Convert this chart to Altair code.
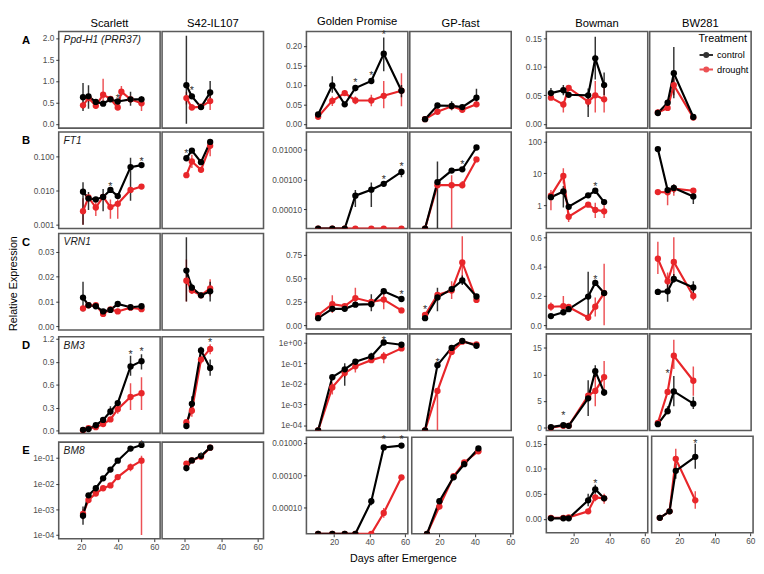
import altair as alt
import pandas as pd

CULTIVARS = ["Scarlett", "S42-IL107", "Golden Promise", "GP-fast", "Bowman", "BW281"]
GENES = ["Ppd-H1 (PRR37)", "FT1", "VRN1", "BM3", "BM8"]
ROW_LETTERS = ["A", "B", "C", "D", "E"]
TREATMENTS = ["control", "drought"]
COLORS = ["#000000", "#E8262A"]
X_TICKS = [20, 40, 60]

# each point: [day, mean, lower, upper]
# ---- Row A: Ppd-H1 (PRR37)
ppd_sc_c = [[21, .62, .30, .95], [24, .64, .35, .90], [28, .51, .46, .56], [32, .47, .42, .52], [36, .57, .52, .62], [40, .52, .47, .57], [47, .57, .42, .75], [53, .57, .50, .64]]
ppd_sc_d = [[21, .43, .35, .52], [24, .60, .50, .70], [28, .42, .35, .50], [32, .68, .45, 1.05], [36, .58, .53, .65], [40, .38, .33, .43], [42, .75, .65, .88], [47, .57, .50, .64], [53, .48, .30, .62]]
ppd_s42_c = [[21, .90, 0, 2.05], [24, .64, .58, .70], [29, .39, .35, .43], [34, .73, .50, 1.00]]
ppd_s42_d = [[21, .60, .45, .75], [24, .38, .32, .46], [29, .40, .36, .45], [34, .53, .32, .68]]
ppd_gp_c = [[11, .024, .020, .028], [19, .099, .080, .122], [26, .050, .045, .056], [32, .092, .084, .100], [41, .110, .104, .116], [48, .180, .135, .222], [58, .085, .068, .100]]
ppd_gp_d = [[11, .018, .015, .021], [19, .059, .046, .070], [26, .079, .072, .086], [32, .060, .050, .070], [41, .060, .045, .075], [48, .072, .040, .110], [58, .085, .045, .130]]
ppd_gpf_c = [[13, .012, .010, .014], [20, .047, .042, .052], [28, .046, .035, .058], [34, .043, .038, .048], [42, .067, .055, .090]]
ppd_gpf_d = [[13, .012, .010, .014], [20, .031, .027, .035], [28, .045, .041, .049], [34, .036, .030, .042], [42, .050, .045, .055]]
ppd_bow_c = [[7, .054, .047, .063], [14, .059, .050, .068], [17, .051, .048, .054], [28, .050, .012, .062], [32, .115, .078, .153], [37, .068, .050, .090]]
ppd_bow_d = [[7, .046, .042, .050], [14, .034, .020, .040], [17, .063, .058, .068], [28, .039, .030, .050], [32, .050, .020, .075], [37, .043, .020, .065]]
ppd_bw_c = [[9, .019, .016, .022], [14.5, .037, .033, .041], [18, .089, .045, .135], [29, .012, .010, .014]]
ppd_bw_d = [[9, .020, .016, .025], [14.5, .028, .024, .032], [18, .068, .050, .080], [29, .011, .009, .013]]
ppd_stars = [["Scarlett", 40, .64], ["S42-IL107", 24, .83], ["Golden Promise", 32, .111], ["Golden Promise", 41, .13], ["Golden Promise", 48, .235]]

# ---- Row B: FT1 (log)
ft1_sc_c = [[21, .0092, .0010, .0175], [24, .0059, .0027, .0090], [28, .0055, .0048, .0063], [32, .0065, .0025, .0110], [36, .0104, .0090, .0120], [40, .0069, .0060, .0080], [47, .048, .0050, .090], [53, .055, .045, .065]]
ft1_sc_d = [[21, .0025, .0010, .0060], [24, .0063, .0050, .0075], [28, .0032, .0018, .0055], [32, .0065, .0055, .0075], [36, .0033, .0015, .0055], [40, .0041, .0015, .0055], [47, .0104, .0090, .0120], [53, .013, .012, .014]]
ft1_s42_c = [[21, .087, .080, .095], [24, .145, .130, .160], [29, .067, .060, .075], [34, .26, .22, .30]]
ft1_s42_d = [[21, .028, .025, .031], [24, .070, .045, .110], [29, .040, .035, .045], [34, .20, .10, .28]]
ft1_gp_c = [[11, 0, 0, 0], [19, 0, 0, 0], [26, 0, 0, 0], [32, .00029, .00012, .00045], [41, .00046, .00012, .0008], [48, .00072, .00065, .0008], [58, .0018, .0012, .0023]]
ft1_gp_d = [[11, 0, 0, 0], [19, 0, 0, 0], [26, 0, 0, 0], [32, 0, 0, 0], [41, 0, 0, 0], [48, 0, 0, 0], [58, 0, 0, 0]]
ft1_gpf_c = [[13, 0, 0, 0], [20, .00082, .00002, .004], [28, .0020, .0018, .0022], [34, .0022, .0020, .0025], [42, .0118, .011, .013]]
ft1_gpf_d = [[13, 0, 0, 0], [20, .00065, .0006, .0007], [28, .00065, 0, .0014], [34, .00065, .0005, .0009], [42, .0047, .0043, .0051]]
ft1_bow_c = [[7, 1.8, 1.5, 2.1], [14, 2.7, .85, 4.0], [17, .90, .80, 1.0], [28, 2.05, 1.9, 2.2], [32, 2.85, 2.6, 3.1], [37, 1.26, 1.1, 1.4]]
ft1_bow_d = [[7, 2.0, .70, 3.0], [14, 8.3, 4.8, 14.5], [17, .44, .30, .60], [28, 1.05, .95, 1.15], [32, .72, .40, 1.2], [37, .65, .40, 1.0]]
ft1_bw_c = [[9, 57, 52, 62], [14.5, 3.0, 2.7, 3.3], [18, 3.5, 2.5, 4.5], [29, 1.9, 1.1, 2.6]]
ft1_bw_d = [[9, 2.6, 2.4, 2.8], [14.5, 2.55, 1.0, 3.5], [18, 3.3, 2.0, 4.5], [29, 2.85, 2.6, 3.1]]
ft1_stars = [["Scarlett", 36, .015], ["Scarlett", 53, .083], ["S42-IL107", 21, .14], ["Golden Promise", 48, .00117], ["Golden Promise", 58, .0032], ["GP-fast", 34, .0039], ["Bowman", 32, 4.6]]

# ---- Row C: VRN1
vrn1_sc_c = [[21, .0116, .006, .018], [24, .0085, .0078, .0092], [28, .0081, .0075, .0087], [32, .0060, .0053, .0067], [36, .0066, .0058, .0074], [40, .0090, .0083, .0097], [47, .0077, .0072, .0082], [53, .0081, .0076, .0086]]
vrn1_sc_d = [[21, .0072, .0062, .0082], [24, .0085, .0078, .0092], [28, .0085, .0079, .0091], [32, .0050, .0042, .0058], [36, .0068, .0060, .0076], [40, .0060, .0052, .0068], [47, .0075, .0069, .0081], [53, .0069, .0063, .0075]]
vrn1_s42_c = [[21, .0225, .010, .036], [24, .0156, .0140, .0172], [29, .0125, .0118, .0132], [34, .0141, .010, .018]]
vrn1_s42_d = [[21, .0184, .010, .027], [24, .0144, .0130, .0158], [29, .0125, .0118, .0132], [34, .0153, .012, .019]]
vrn1_gp_c = [[11, .076, .065, .087], [19, .175, .160, .190], [26, .175, .160, .190], [32, .22, .20, .24], [41, .225, .15, .33], [48, .363, .34, .385], [58, .28, .26, .30]]
vrn1_gp_d = [[11, .109, .095, .123], [19, .225, .13, .32], [26, .205, .18, .23], [32, .29, .22, .40], [41, .248, .23, .27], [48, .274, .17, .34], [58, .158, .145, .17]]
vrn1_gpf_c = [[13, .076, .065, .087], [20, .297, .15, .40], [28, .386, .36, .41], [34, .478, .43, .53], [42, .307, .28, .33]]
vrn1_gpf_d = [[13, .11, .095, .125], [20, .324, .30, .35], [28, .37, .28, .47], [34, .67, .50, .95], [42, .27, .25, .29]]
vrn1_bow_c = [[7, .063, .055, .071], [14, .089, .080, .098], [17, .11, .10, .12], [28, .196, .03, .365], [32, .289, .27, .31], [37, .22, .20, .24]]
vrn1_bow_d = [[7, .127, .10, .155], [14, .13, .09, .20], [17, .125, .11, .14], [28, .053, .04, .066], [32, .127, .06, .19], [37, .22, 0, .42]]
vrn1_bw_c = [[9, .228, .21, .25], [14.5, .232, .16, .30], [18, .316, .29, .35], [29, .258, .22, .30]]
vrn1_bw_d = [[9, .454, .35, .57], [14.5, .30, .25, .36], [18, .432, .30, .60], [29, .20, .17, .23]]
vrn1_stars = [["Golden Promise", 58, .356], ["GP-fast", 13, .19], ["Bowman", 32, .33]]

# ---- Row D: BM3
bm3_sc_c = [[21, .01, .005, .015], [24, .02, .01, .03], [28, .07, .05, .09], [32, .14, .12, .16], [36, .25, .20, .32], [40, .36, .33, .39], [47, .84, .72, .98], [53, .91, .80, 1.0]]
bm3_sc_d = [[21, .005, 0, .01], [24, .03, .02, .04], [28, .045, .03, .06], [32, .085, .06, .11], [36, .146, .12, .17], [40, .28, .22, .34], [47, .44, .27, .62], [53, .49, .27, .70]]
bm3_s42_c = [[21, .06, .05, .07], [24, .35, .25, .45], [29, 1.05, 1.0, 1.1], [34, .82, .72, .93]]
bm3_s42_d = [[21, .11, .09, .13], [24, .26, .18, .33], [29, .93, .88, .98], [34, 1.07, 1.0, 1.13]]
bm3_gp_c = [[11, 0, 0, 0], [19, .021, .017, .025], [26, .05, .008, .10], [32, .117, .10, .135], [41, .21, .13, .32], [48, 1.0, .9, 1.1], [58, .78, .7, .86]]
bm3_gp_d = [[11, 0, 0, 0], [19, .0067, .003, .012], [26, .033, .020, .05], [32, .07, .035, .10], [41, .14, .12, .16], [48, .21, .10, .35], [58, .52, .45, .6]]
bm3_gpf_c = [[13, 0, 0, 0], [20, .08, .07, .09], [28, .55, .5, .6], [34, 1.2, 1.1, 1.3], [42, .7, .6, .8]]
bm3_gpf_d = [[13, 0, 0, 0], [20, .0045, 0, .006], [28, .35, .3, .4], [34, 1.1, 1.0, 1.2], [42, .8, .7, .9]]
bm3_bow_c = [[7, .1, 0, .2], [14, .47, .3, .6], [17, .35, .2, .5], [28, 5.5, 2.2, 8.9], [32, 10.6, 9.5, 11.7], [37, 6.6, 6.0, 7.2]]
bm3_bow_d = [[7, 0, 0, 0], [14, .35, .2, .5], [17, .35, .2, .5], [28, 6.0, 5.5, 6.5], [32, 6.9, 4.0, 10.0], [37, 9.5, 6.5, 12.5]]
bm3_bw_c = [[9, .65, .4, .9], [14.5, 3.1, 2.5, 4.0], [18, 6.8, 4.0, 9.7], [29, 4.5, 3.5, 5.8]]
bm3_bw_d = [[9, .87, .6, 1.1], [14.5, 6.7, 6.3, 7.1], [18, 13.5, 11.0, 16.5], [29, 8.8, 6.0, 11.5]]
bm3_stars = [["Scarlett", 47, 1.03], ["Scarlett", 53, 1.07], ["S42-IL107", 34, 1.18], ["Golden Promise", 48, 1.7], ["GP-fast", 20, .14], ["Bowman", 14, 2.7], ["BW281", 14.5, 10.6]]

# ---- Row E: BM8
bm8_sc_c = [[21, .00056, .00025, .0013], [24, .0035, .003, .004], [28, .0066, .0058, .0074], [32, .016, .014, .018], [36, .035, .031, .039], [40, .078, .07, .086], [47, .23, .2, .26], [53, .32, .29, .35]]
bm8_sc_d = [[21, .00066, .0004, .001], [24, .0023, .002, .0026], [28, .0041, .0036, .0046], [32, .0066, .006, .0072], [36, .0085, .0075, .0095], [40, .018, .015, .021], [47, .044, .03, .06], [53, .078, .0001, .12]]
bm8_s42_c = [[21, .04, .03, .05], [24, .08, .07, .09], [29, .12, .11, .13], [34, .25, .22, .28]]
bm8_s42_d = [[21, .06, .05, .07], [24, .08, .07, .09], [29, .11, .10, .12], [34, .25, .22, .28]]
bm8_gp_c = [[11, 0, 0, 0], [19, 0, 0, 0], [26, 0, 0, 0], [32, 0, 0, 0], [41, .00016, .00012, .0002], [48, .0072, .0065, .008], [58, .0082, .0075, .009]]
bm8_gp_d = [[11, 0, 0, 0], [19, 0, 0, 0], [26, 0, 0, 0], [32, 0, 0, 0], [41, 0, 0, 0], [48, .00007, .00005, .0001], [58, .00087, .0007, .001]]
bm8_gpf_c = [[13, 0, 0, 0], [20, .00016, .00012, .0002], [28, .00088, .0007, .001], [34, .0022, .0019, .0025], [42, .0067, .006, .0075]]
bm8_gpf_d = [[13, 0, 0, 0], [20, .00011, .00009, .00013], [28, .00094, .0008, .0011], [34, .0025, .0022, .0028], [42, .0055, .005, .006]]
bm8_bow_c = [[7, .001, 0, .002], [14, .001, 0, .002], [17, .001, 0, .002], [28, .037, .025, .05], [32, .059, .05, .068], [37, .041, .035, .047]]
bm8_bow_d = [[7, .002, 0, .004], [14, .002, 0, .004], [17, .003, 0, .006], [28, .015, .01, .02], [32, .043, .035, .05], [37, .041, .03, .05]]
bm8_bw_c = [[9, .002, 0, .004], [14.5, .015, .01, .02], [18, .096, .08, .11], [29, .124, .1, .15]]
bm8_bw_d = [[9, .002, 0, .004], [14.5, .015, .01, .02], [18, .12, .1, .14], [29, .037, .02, .055]]
bm8_stars = [["Scarlett", 53, .66], ["S42-IL107", 29, .14], ["Golden Promise", 48, .016], ["Golden Promise", 58, .016], ["Bowman", 32, .075], ["BW281", 29, .155]]

SERIES = [
    [(ppd_sc_c, ppd_sc_d), (ppd_s42_c, ppd_s42_d), (ppd_gp_c, ppd_gp_d), (ppd_gpf_c, ppd_gpf_d), (ppd_bow_c, ppd_bow_d), (ppd_bw_c, ppd_bw_d)],
    [(ft1_sc_c, ft1_sc_d), (ft1_s42_c, ft1_s42_d), (ft1_gp_c, ft1_gp_d), (ft1_gpf_c, ft1_gpf_d), (ft1_bow_c, ft1_bow_d), (ft1_bw_c, ft1_bw_d)],
    [(vrn1_sc_c, vrn1_sc_d), (vrn1_s42_c, vrn1_s42_d), (vrn1_gp_c, vrn1_gp_d), (vrn1_gpf_c, vrn1_gpf_d), (vrn1_bow_c, vrn1_bow_d), (vrn1_bw_c, vrn1_bw_d)],
    [(bm3_sc_c, bm3_sc_d), (bm3_s42_c, bm3_s42_d), (bm3_gp_c, bm3_gp_d), (bm3_gpf_c, bm3_gpf_d), (bm3_bow_c, bm3_bow_d), (bm3_bw_c, bm3_bw_d)],
    [(bm8_sc_c, bm8_sc_d), (bm8_s42_c, bm8_s42_d), (bm8_gp_c, bm8_gp_d), (bm8_gpf_c, bm8_gpf_d), (bm8_bow_c, bm8_bow_d), (bm8_bw_c, bm8_bw_d)],
]
STARS = [ppd_stars, ft1_stars, vrn1_stars, bm3_stars, bm8_stars]

SCI = "'1e' + (datum.value >= 1 ? '+' : '-') + '0' + format(abs(round(log(datum.value) / LN10)), 'd')"

# y scale settings per row and group (Scarlett pair, Golden Promise pair, Bowman pair)
YSPEC = [
    [("linear", [-0.1, 2.15], [0, .5, 1, 1.5, 2], ".1f"),
     ("linear", [-0.011, 0.237], [0, .05, .1, .15, .2], ".2f"),
     ("linear", [-0.0075, 0.162], [0, .05, .1, .15], ".2f")],
    [("log", [0.00078, 0.505], [0.001, 0.01, 0.1], ".3f"),
     ("log", [2.3e-5, 0.0389], [1e-4, 1e-3, 1e-2], ".5f"),
     ("log", [0.188, 195], [1, 10, 100], ".0f")],
    [("linear", [-0.0015, 0.0375], [0, .01, .02, .03], ".2f"),
     ("linear", [-0.04, 0.99], [0, .25, .5, .75], ".2f"),
     ("linear", [-0.025, 0.633], [0, .2, .4, .6], ".1f")],
    [("linear", [-0.0365, 1.2287], [0, .3, .6, .9, 1.2], ".1f"),
     ("log", [5.5e-5, 2.62], [1e-4, 1e-3, 1e-2, 1e-1, 1], "sci"),
     ("linear", [-0.52, 17.6], [0, 5, 10, 15], ".0f")],
    [("log", [7.2e-5, 0.41], [1e-4, 1e-3, 1e-2, 1e-1], "sci"),
     ("log", [1.6e-5, 0.0148], [1e-4, 1e-3, 1e-2], ".5f"),
     ("linear", [-0.028, 0.165], [0, .05, .1, .15], ".2f")],
]
XDOM = [[7.7, 63.2], [4.4, 61.6], [4.4, 61.6]]
EXTENT = [30, 42, 30]
W, H = 104, 99
TINY = 1e-9

SYMBOL = "M-1,0L1,0M-0.3,0A0.3,0.3,0,1,1,0.3,0A0.3,0.3,0,1,1,-0.3,0Z"
LEGEND = alt.Legend(title="Treatment", orient="top-right", offset=2, padding=0,
                    titleFontSize=11, titleFontWeight="normal", titleColor="black", titlePadding=3,
                    labelFontSize=9.5, labelColor="black", symbolType=SYMBOL, symbolSize=190,
                    symbolStrokeWidth=2, rowPadding=0, labelOffset=3)


def y_axis(r, g):
    typ, dom, ticks, fmt = YSPEC[r][g]
    kw = dict(values=ticks, grid=False, domain=False, tickSize=3, tickColor="#333333",
              labelColor="#4d4d4d", labelFontSize=8.5, labelPadding=2,
              minExtent=EXTENT[g], maxExtent=EXTENT[g])
    if fmt == "sci":
        kw["labelExpr"] = SCI
    else:
        kw["format"] = fmt
    if g == 0:
        kw.update(title=ROW_LETTERS[r], titleAngle=0, titleX=-34, titleY=9, titleFontSize=11.5,
                  titleFontWeight="bold", titleAlign="center", titleBaseline="middle", titleColor="black")
    else:
        kw["title"] = None
    return alt.Axis(**kw)


def panel(r, ci):
    g, pos = divmod(ci, 2)
    cult = CULTIVARS[ci]
    ctrl, drt = SERIES[r][ci]
    typ, dom, ticks, fmt = YSPEC[r][g]
    fix = (lambda v: v if v > 0 else TINY) if typ == "log" else (lambda v: v)
    recs = []
    for trt, pts in (("drought", drt), ("control", ctrl)):
        for d, m, lo, hi in pts:
            recs.append({"day": d, "mean": fix(m), "lo": fix(lo), "hi": fix(hi), "Treatment": trt})
    df = pd.DataFrame(recs)

    yscale = alt.Scale(type=typ, domain=dom, nice=False, zero=False, clamp=True)
    xscale = alt.Scale(domain=XDOM[g], nice=False, zero=False)
    if r == 4:
        xaxis = alt.Axis(values=X_TICKS, format="d", grid=False, domain=False, tickSize=3,
                         tickColor="#333333", labelColor="#4d4d4d", labelFontSize=8.5,
                         labelPadding=1, title=None)
    else:
        xaxis = None
    yaxis = y_axis(r, g) if pos == 0 else None
    show_legend = (r == 0 and ci == 5)
    color = alt.Color("Treatment:N", scale=alt.Scale(domain=TREATMENTS, range=COLORS),
                      legend=LEGEND if show_legend else None)
    x = alt.X("day:Q", scale=xscale, axis=xaxis)

    base = alt.Chart(df)
    layers = [
        base.mark_rule(strokeWidth=1.5, opacity=0.8, clip=True).encode(
            x=x, y=alt.Y("lo:Q", scale=yscale, axis=yaxis), y2="hi:Q", color=color),
        base.mark_line(strokeWidth=2.2, clip=True).encode(
            x=x, y=alt.Y("mean:Q", scale=yscale, axis=yaxis), color=color, order="day:Q"),
        base.mark_circle(size=42, opacity=1, clip=True).encode(
            x=x, y=alt.Y("mean:Q", scale=yscale, axis=yaxis), color=color),
    ]
    st = [s for s in STARS[r] if s[0] == cult]
    if st:
        sdf = pd.DataFrame({"day": [s[1] for s in st], "y": [s[2] for s in st]})
        layers.append(alt.Chart(sdf).mark_text(text="*", fontSize=11, color="#333333",
                                               baseline="alphabetic", dy=6).encode(
            x=x, y=alt.Y("y:Q", scale=yscale, axis=yaxis)))
    if ci == 0:
        layers.append(alt.Chart(pd.DataFrame({"gene": [GENES[r]]})).mark_text(
            align="left", baseline="top", fontStyle="italic", fontSize=10.5, color="#1a1a1a").encode(
            x=alt.value(5), y=alt.value(4), text="gene:N"))
    ch = alt.layer(*layers).properties(width=W, height=H)
    if r == 0:
        ch = ch.properties(title=alt.TitleParams(cult, fontSize=11.5, fontWeight="normal",
                                                 color="black", offset=2))
    return ch


columns = []
for g in range(3):
    rows = [alt.hconcat(panel(r, 2 * g), panel(r, 2 * g + 1), spacing=0)
            .resolve_scale(color="independent").resolve_legend(color="independent")
            for r in range(5)]
    columns.append(alt.vconcat(*rows, spacing=2)
                   .resolve_scale(color="independent").resolve_legend(color="independent"))

body = alt.hconcat(*columns, spacing=0).resolve_scale(color="independent").resolve_legend(
    color="independent").properties(
    title=alt.TitleParams("Relative Expression", orient="left", anchor="middle", fontSize=11,
                          fontWeight="normal", color="black", offset=2))

chart = alt.vconcat(body).resolve_scale(color="independent").resolve_legend(
    color="independent").properties(
    title=alt.TitleParams("Days after Emergence", orient="bottom", anchor="middle", fontSize=11,
                          fontWeight="normal", color="black", offset=2, dx=22),
    padding=0,
).configure(font="Liberation Sans").configure_view(stroke="#5a5a5a", strokeWidth=1.6)

chart.save("out.html", embed_options={"renderer": "svg", "actions": False})
